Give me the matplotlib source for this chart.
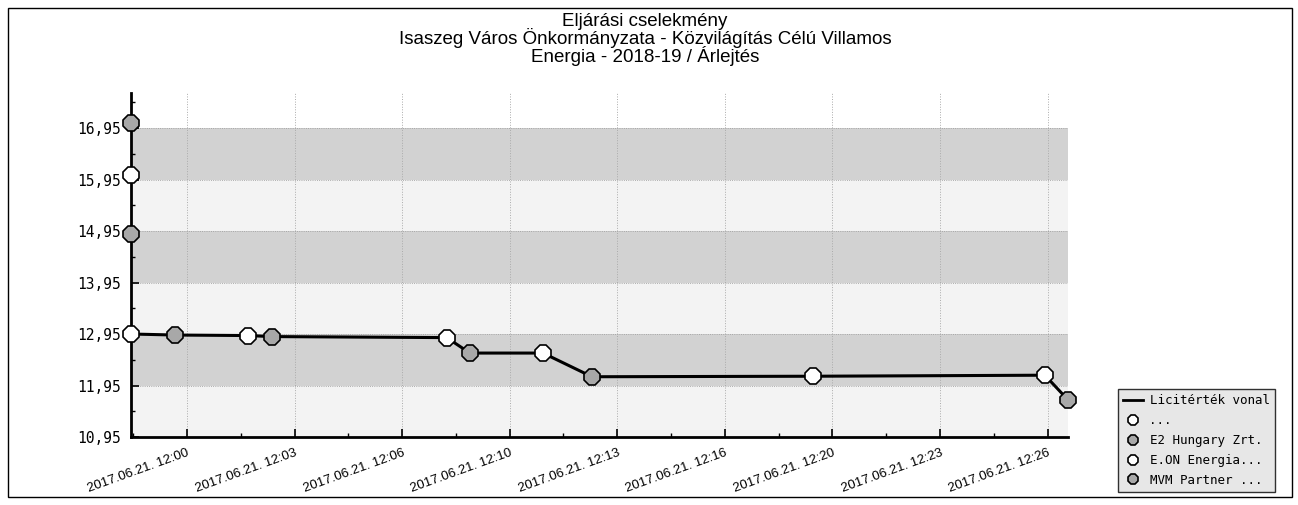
import matplotlib
matplotlib.use("Agg")
import matplotlib.pyplot as plt
import matplotlib.dates as mdates
from matplotlib.ticker import FixedLocator, AutoMinorLocator
from matplotlib.patches import Rectangle
from matplotlib.lines import Line2D
import pandas as pd

# Licitérték vonal (bid value line)
line_times = ["11:58:16", "11:59:38", "12:01:53", "12:02:38", "12:08:03", "12:08:46",
              "12:11:02", "12:12:33", "12:19:24", "12:26:35", "12:27:18"]
line_values = [12.95, 12.93, 12.92, 12.90, 12.88, 12.58, 12.58, 12.12, 12.13, 12.15, 11.67]

# bidders
dots_times = ["11:58:16"]
dots_values = [16.03]
e2_times = ["11:58:16", "11:59:38", "12:08:46", "12:27:18"]
e2_values = [17.05, 12.93, 12.58, 11.67]
eon_times = ["11:58:16", "12:01:53", "12:08:03", "12:11:02", "12:19:24", "12:26:35"]
eon_values = [12.95, 12.92, 12.88, 12.58, 12.13, 12.15]
mvm_times = ["11:58:16", "12:02:38", "12:12:33"]
mvm_values = [14.90, 12.90, 12.12]

tick_times = ["12:00:00", "12:03:20", "12:06:40", "12:10:00", "12:13:20",
              "12:16:40", "12:20:00", "12:23:20", "12:26:40"]
tick_labels = ["2017.06.21. 12:00", "2017.06.21. 12:03", "2017.06.21. 12:06",
               "2017.06.21. 12:10", "2017.06.21. 12:13", "2017.06.21. 12:16",
               "2017.06.21. 12:20", "2017.06.21. 12:23", "2017.06.21. 12:26"]
y_ticks = [10.95, 11.95, 12.95, 13.95, 14.95, 15.95, 16.95]


def to_dt(ts):
    return pd.to_datetime(["2017-06-21 " + t for t in ts])


fig = plt.figure(figsize=(12.98, 5.05), dpi=100)
ax = fig.add_axes([131 / 1298, 1 - 437 / 505, (1068 - 131) / 1298, (437 - 93) / 505])

# background bands
for i in range(len(y_ticks) - 1):
    col = "#f3f3f3" if i % 2 == 0 else "#d2d2d2"
    ax.axhspan(y_ticks[i], y_ticks[i + 1], color=col, zorder=0, lw=0)

ax.plot(to_dt(line_times), line_values, color="black", lw=2.2, zorder=3)

open_style = dict(ls="none", marker="8", ms=12, mfc="white", mec="black", mew=1.2,
                  zorder=4, clip_on=False)
fill_style = dict(ls="none", marker="8", ms=12, mfc="#a8a8a8", mec="black", mew=1.2,
                  zorder=4, clip_on=False)
ax.plot(to_dt(dots_times), dots_values, **open_style)
ax.plot(to_dt(e2_times), e2_values, **fill_style)
ax.plot(to_dt(eon_times), eon_values, **open_style)
ax.plot(to_dt(mvm_times), mvm_values, **fill_style)

ax.set_xlim(to_dt(["11:58:16"])[0], to_dt(["12:27:18"])[0])
ax.set_ylim(10.95, 17.63)

ax.yaxis.set_major_locator(FixedLocator(y_ticks))
ax.set_yticklabels([f"{v:.2f}".replace(".", ",") for v in y_ticks],
                   fontsize=10.5, family="DejaVu Sans Mono")
ax.yaxis.set_minor_locator(AutoMinorLocator(2))

ax.set_xticks(mdates.date2num(to_dt(tick_times)))
ax.set_xticklabels(tick_labels, rotation=20, ha="right", rotation_mode="anchor",
                   fontsize=9.5, family="Liberation Sans")
ax.xaxis.set_minor_locator(AutoMinorLocator(2))

ax.tick_params(axis="both", which="major", length=6, width=1.2, direction="in", pad=7)
ax.tick_params(axis="both", which="minor", length=3, width=1, direction="in")
ax.grid(axis="x", which="major", ls=":", color="#aaaaaa", lw=0.7)
ax.grid(axis="y", which="major", ls=":", color="#999999", lw=0.6)

for s in ["top", "right"]:
    ax.spines[s].set_visible(False)
for s in ["left", "bottom"]:
    ax.spines[s].set_linewidth(2)

fig.suptitle("Eljárási cselekmény\nIsaszeg Város Önkormányzata - Közvilágítás Célú Villamos\n"
             "Energia - 2018-19 / Árlejtés",
             x=0.497, y=0.975, va="top", fontsize=13.5, family="Liberation Sans",
             linespacing=0.9)

handles = [
    Line2D([], [], color="black", lw=2),
    Line2D([], [], **{**open_style, "ms": 8}),
    Line2D([], [], **{**fill_style, "ms": 8}),
    Line2D([], [], **{**open_style, "ms": 8}),
    Line2D([], [], **{**fill_style, "ms": 8}),
]
labels = ["Licitérték vonal", "...", "E2 Hungary Zrt.", "E.ON Energia...", "MVM Partner ..."]
leg = fig.legend(handles, labels, loc="upper left", bbox_to_anchor=(1112 / 1298, 1 - 383 / 505),
                 prop={"family": "DejaVu Sans Mono", "size": 9}, frameon=True, fancybox=False,
                 handlelength=1.6, handletextpad=0.5, borderpad=0.4, labelspacing=0.55)
leg.get_frame().set_facecolor("#e2e2e2")
leg.get_frame().set_edgecolor("black")
leg.get_frame().set_linewidth(1)

# outer border
fig.add_artist(Rectangle((8 / 1298, 8 / 505), 1284 / 1298, 489 / 505, transform=fig.transFigure,
                         fill=False, ec="black", lw=1))

fig.savefig("out.png", dpi=100)
